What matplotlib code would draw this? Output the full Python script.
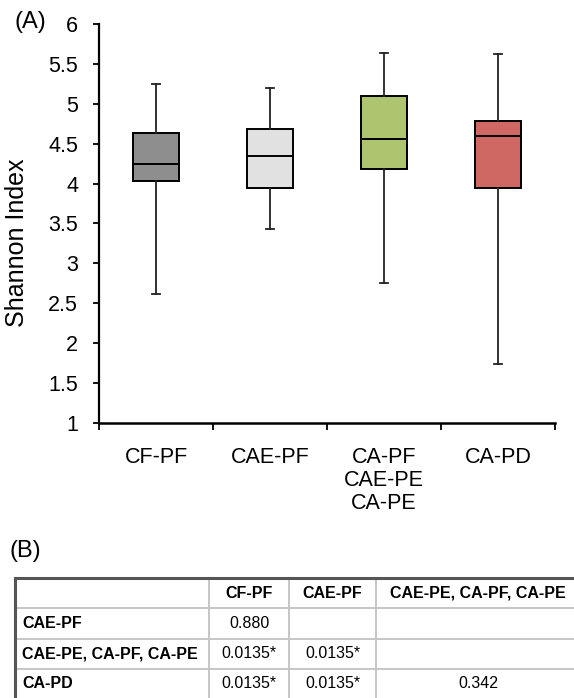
import matplotlib
matplotlib.use("Agg")
import matplotlib.pyplot as plt

plt.rcParams['font.family'] = ['Liberation Sans', 'DejaVu Sans']

# box plot data
groups = ['CF-PF', 'CAE-PF', 'CA-PF\nCAE-PE\nCA-PE', 'CA-PD']
whisker_low = [2.62, 3.43, 2.76, 1.74]
q1 = [4.03, 3.95, 4.18, 3.94]
median = [4.25, 4.34, 4.56, 4.60]
q3 = [4.64, 4.68, 5.10, 4.79]
whisker_high = [5.25, 5.20, 5.64, 5.63]
box_colors = ['#8e8e8e', '#e1e1e1', '#acc56e', '#cf6762']

# pairwise comparison table
col_labels = ['', 'CF-PF', 'CAE-PF', 'CAE-PE, CA-PF, CA-PE']
row_labels = ['CAE-PF', 'CAE-PE, CA-PF, CA-PE', 'CA-PD']
p_values = [
    ['0.880', '', ''],
    ['0.0135*', '0.0135*', ''],
    ['0.0135*', '0.0135*', '0.342'],
]

W, H = 574, 698
fig = plt.figure(figsize=(W / 100, H / 100), dpi=100)

# ---- (A) box plot ----
ax = fig.add_axes([99 / W, 1 - 423 / H, (555 - 99) / W, (423 - 24) / H])
stats = []
for i in range(len(groups)):
    stats.append(dict(whislo=whisker_low[i], q1=q1[i], med=median[i],
                      q3=q3[i], whishi=whisker_high[i], fliers=[]))
positions = [i + 0.5 for i in range(len(groups))]
art = ax.bxp(stats, positions=positions, widths=0.41, patch_artist=True,
             showfliers=False, capwidths=0.07,
             boxprops=dict(edgecolor='black', linewidth=1.4),
             medianprops=dict(color='black', linewidth=1.4),
             whiskerprops=dict(color='#222222', linewidth=1.3),
             capprops=dict(color='#222222', linewidth=1.3))
for patch, c in zip(art['boxes'], box_colors):
    patch.set_facecolor(c)

ax.set_xlim(0, len(groups))
ax.set_ylim(1, 6)
ax.set_yticks([1 + 0.5 * k for k in range(11)])
ax.set_yticklabels(['1', '1.5', '2', '2.5', '3', '3.5', '4', '4.5', '5', '5.5', '6'])
ax.set_xticks(range(len(groups) + 1))
ax.set_xticklabels([])
ax.set_xticks(positions, minor=True)
ax.set_xticklabels(groups, minor=True, fontsize=15.5, linespacing=1.15)
ax.tick_params(axis='x', which='minor', length=0, pad=17)
ax.tick_params(axis='x', which='major', direction='out', length=5, width=1.3)
ax.tick_params(axis='y', direction='out', length=4, width=1.3, labelsize=15.5, pad=11)
for s in ['top', 'right']:
    ax.spines[s].set_visible(False)
ax.spines['left'].set_linewidth(1.6)
ax.spines['bottom'].set_linewidth(1.8)
ax.set_ylabel('Shannon Index', fontsize=18)
ax.yaxis.set_label_coords(-(99 - 29) / (555 - 99), (423 - 243) / (423 - 24))

fig.text(30 / W, 1 - 22 / H, '(A)', fontsize=17, ha='center', va='center')
fig.text(25 / W, 1 - 551 / H, '(B)', fontsize=17, ha='center', va='center')

# ---- (B) table ----
tax = fig.add_axes([15 / W, -1 / H, (580 - 15) / W, 121 / H])
tax.set_xticks([])
tax.set_yticks([])
cell_text = [[row_labels[i]] + p_values[i] for i in range(len(row_labels))]
col_w = [194, 80, 87, 204]
total = sum(col_w)
tbl = tax.table(cellText=cell_text, colLabels=col_labels, cellLoc='center',
                colWidths=[w / total for w in col_w], bbox=[0, 0, 1, 1])
tbl.auto_set_font_size(False)
tbl.set_fontsize(11.5)
for (r, c), cell in tbl.get_celld().items():
    cell.set_edgecolor('#c6c6c6')
    cell.set_linewidth(1.4)
    if r == 0 or c == 0:
        cell.get_text().set_fontweight('bold')
    if c == 0:
        cell.get_text().set_horizontalalignment('left')
        cell.PAD = 7 / 194
for s in ['right', 'bottom']:
    tax.spines[s].set_visible(False)
for s in ['left', 'top']:
    tax.spines[s].set_color('#555555')
    tax.spines[s].set_linewidth(2.2)
    tax.spines[s].set_zorder(5)

fig.savefig('out.png', dpi=100)
